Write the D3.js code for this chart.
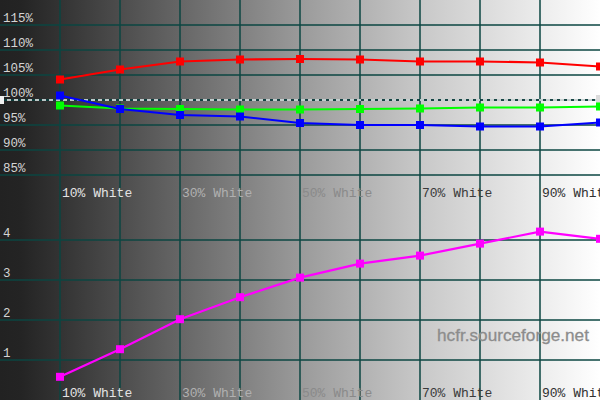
<!DOCTYPE html>
<html>
<head>
<meta charset="utf-8">
<script src="https://cdn.jsdelivr.net/npm/d3@7"></script>
<style>
    html, body { margin: 0; padding: 0; background: #fff; }
    svg { display: block; }
</style>
</head>
<body>
<svg id="chart" width="600" height="400"></svg>
<script>
// steps of the grey scale (percent white)
const steps = [10, 20, 30, 40, 50, 60, 70, 80, 90, 100];
const stepLabels = ['10% White', '30% White', '50% White', '70% White', '90% White'];
const labelSteps = [10, 30, 50, 70, 90];

// RGB levels (percent)
const redValues = [104.1, 106.1, 107.7, 108.1, 108.2, 108.1, 107.7, 107.7, 107.5, 106.7];
const greenValues = [98.9, 98.3, 98.2, 98.1, 98.1, 98.2, 98.3, 98.5, 98.5, 98.7];
const blueValues = [100.9, 98.2, 97.0, 96.7, 95.4, 95.0, 95.0, 94.7, 94.7, 95.5];

// lower panel (magenta)
const lowerValues = [0.58, 1.27, 2.02, 2.57, 3.06, 3.41, 3.61, 3.91, 4.21, 4.03];

const levelTicks = [85, 90, 95, 100, 105, 110, 115];
const lowerTicks = [1, 2, 3, 4];

const width = 600;
const height = 400;
const gridColor = '#0b4642';
const markerSize = 8;

const svg = d3.select('#chart');

// background grey ramp
const defs = svg.append('defs');
const grad = defs.append('linearGradient').attr('id', 'ramp').attr('x1', 0).attr('x2', 1).attr('y1', 0).attr('y2', 0);
[
    [0, '#222'],
    [0.035, '#242424'],
    [0.1, '#333'],
    [0.3, '#666'],
    [0.5, '#9a9a9a'],
    [0.7, '#c8c8c8'],
    [0.9, '#ececec'],
    [1, '#fff'],
].forEach(([o, c]) => grad.append('stop').attr('offset', o).attr('stop-color', c));
svg.append('rect').attr('width', width).attr('height', height).attr('fill', 'url(#ramp)');

const x = d3.scaleLinear().domain([0, 100]).range([0, width]);
const yTop = d3.scaleLinear().domain([80, 120]).range([200, 0]);
const yBottom = d3.scaleLinear().domain([0, 5]).range([400, 200]);

// grid
const grid = svg.append('g').attr('stroke', gridColor).attr('stroke-width', 1.5);
grid.selectAll('line.v')
    .data(steps.slice(0, -1))
    .enter()
    .append('line')
    .attr('x1', (d) => x(d))
    .attr('x2', (d) => x(d))
    .attr('y1', 0)
    .attr('y2', height);
grid.selectAll('line.ht')
    .data(levelTicks)
    .enter()
    .append('line')
    .attr('x1', 0)
    .attr('x2', width)
    .attr('y1', (d) => yTop(d))
    .attr('y2', (d) => yTop(d));
grid.selectAll('line.hb')
    .data(lowerTicks)
    .enter()
    .append('line')
    .attr('x1', 0)
    .attr('x2', width)
    .attr('y1', (d) => yBottom(d))
    .attr('y2', (d) => yBottom(d));

// 100% reference: alternating light / dark dashes
svg.append('line')
    .attr('x1', 0).attr('x2', width)
    .attr('y1', yTop(100)).attr('y2', yTop(100))
    .attr('stroke', '#f4f4f4').attr('stroke-width', 1.5)
    .attr('stroke-dasharray', '4,3');
svg.append('line')
    .attr('x1', 0).attr('x2', width)
    .attr('y1', yTop(100)).attr('y2', yTop(100))
    .attr('stroke', '#0d3b3b').attr('stroke-width', 1.5)
    .attr('stroke-dasharray', '3,4').attr('stroke-dashoffset', -4);
svg.append('rect').attr('x', 0).attr('y', yTop(100) - 4).attr('width', 4).attr('height', 8).attr('fill', '#f0f0f0');
svg.append('rect').attr('x', width - 4).attr('y', yTop(100) - 5).attr('width', 4).attr('height', 10).attr('fill', '#dcdcdc');

// axis labels
const mono = '"Liberation Mono", "DejaVu Sans Mono", monospace';
svg.append('g')
    .selectAll('text')
    .data(levelTicks)
    .enter()
    .append('text')
    .attr('x', 3)
    .attr('y', (d) => yTop(d) - 3.5)
    .attr('font-family', mono)
    .attr('font-size', '12.5px')
    .attr('fill', '#d4d4d4')
    .text((d) => `${d}%`);
svg.append('g')
    .selectAll('text')
    .data(lowerTicks)
    .enter()
    .append('text')
    .attr('x', 3)
    .attr('y', (d) => yBottom(d) - 3.5)
    .attr('font-family', mono)
    .attr('font-size', '12.5px')
    .attr('fill', '#d4d4d4')
    .text((d) => d);

// step labels, text gets darker as the background gets lighter
const labelColor = d3.scaleLinear().domain([10, 30, 50, 70, 90]).range(['#e4e4e4', '#b0b0b0', '#8a8a8a', '#3a3a3a', '#303030']);
[197, 397].forEach((baseY) => {
    svg.append('g')
        .selectAll('text')
        .data(labelSteps)
        .enter()
        .append('text')
        .attr('x', (d) => x(d) + 2)
        .attr('y', baseY)
        .attr('font-family', mono)
        .attr('font-size', '13px')
        .attr('fill', (d) => labelColor(d))
        .text((d, i) => stepLabels[i]);
});

// watermark
svg.append('text')
    .attr('x', 513)
    .attr('y', 341)
    .attr('text-anchor', 'middle')
    .attr('font-family', '"Liberation Sans", Arial, sans-serif')
    .attr('font-size', '17.2px')
    .attr('fill', '#8c8c8c')
    .attr('stroke', '#8c8c8c')
    .attr('stroke-width', 0.3)
    .text('hcfr.sourceforge.net');

// series
function drawSeries(values, yScale, color) {
    const pts = steps.map((s, i) => [x(s), yScale(values[i])]);
    const g = svg.append('g');
    g.append('path')
        .attr('d', d3.line()(pts))
        .attr('fill', 'none')
        .attr('stroke', color)
        .attr('stroke-width', 2.2);
    g.selectAll('rect')
        .data(pts)
        .enter()
        .append('rect')
        .attr('x', (d) => d[0] - markerSize / 2)
        .attr('y', (d) => d[1] - markerSize / 2)
        .attr('width', markerSize)
        .attr('height', markerSize)
        .attr('fill', color);
}
drawSeries(greenValues, yTop, '#00ff00');
drawSeries(redValues, yTop, '#ff0000');
drawSeries(blueValues, yTop, '#0000ff');
drawSeries(lowerValues, yBottom, '#ff00ff');
</script>
</body>
</html>
